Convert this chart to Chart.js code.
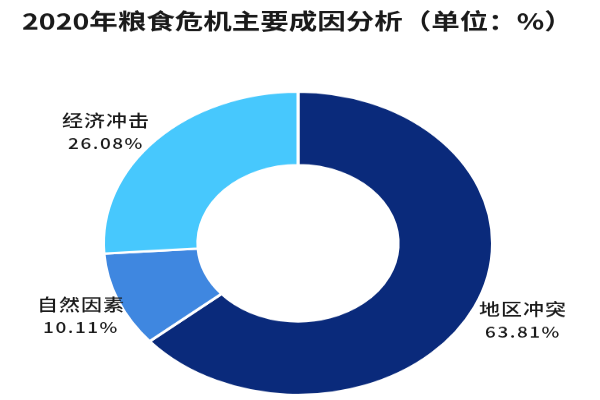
<!DOCTYPE html>
<html>
<head>
<meta charset="utf-8">
<script src="https://cdn.jsdelivr.net/npm/chart.js@4/dist/chart.umd.min.js"></script>
<style>
  html, body { margin: 0; padding: 0; background: #fff; overflow: hidden; }
  #wrap { width: 600px; height: 513px; transform: scaleY(0.7797); transform-origin: 0 0; }
</style>
</head>
<body>
<div id="wrap"><canvas id="grafica" width="600" height="513"></canvas></div>
<script>
const titulo = "2020年粮食危机主要成因分析（单位：%）";
const categorias = ["地区冲突", "自然因素", "经济冲击"];
const valores = [63.81, 10.11, 26.08];
const colores = ["#0a2a7b", "#3f87e0", "#47c8fd"];
// label placement relative to the doughnut centre
const posEtiquetas = [[225, 99], [-217, 93], [-192, -143]];

const fuente = '"Noto Sans CJK SC", "Noto Sans", sans-serif';

const etiquetasPlugin = {
    id: "etiquetas",
    afterDraw(chart) {
        const ctx = chart.ctx;
        const meta = chart.getDatasetMeta(0);
        const cx = meta.data[0].x, cy = meta.data[0].y;
        ctx.save();
        ctx.fillStyle = "#1a1a1a";
        ctx.textBaseline = "middle";
        ctx.textAlign = "left";
        ctx.font = "bold 28.5px " + fuente;
        ctx.fillText(titulo, 22, 27);
        ctx.textAlign = "center";
        categorias.forEach((c, i) => {
            const x = cx + posEtiquetas[i][0], y = cy + posEtiquetas[i][1];
            ctx.font = "500 21px " + fuente;
            ctx.letterSpacing = "1px";
            ctx.fillText(c, x, y - 15);
            ctx.font = "500 19px " + fuente;
            ctx.letterSpacing = "1.5px";
            ctx.fillText(valores[i].toFixed(2) + "%", x, y + 15);
        });
        ctx.restore();
    }
};

new Chart(document.getElementById("grafica").getContext("2d"), {
    type: "doughnut",
    data: {
        labels: categorias,
        datasets: [{
            data: valores,
            backgroundColor: colores,
            borderColor: "#ffffff",
            borderWidth: 3
        }]
    },
    options: {
        responsive: false,
        animation: false,
        cutout: "51.5%",
        layout: { padding: { left: 102, right: 106, top: 116, bottom: 5 } },
        plugins: {
            legend: { display: false },
            tooltip: { enabled: false },
            title: { display: false }
        }
    },
    plugins: [etiquetasPlugin]
});
</script>
</body>
</html>
